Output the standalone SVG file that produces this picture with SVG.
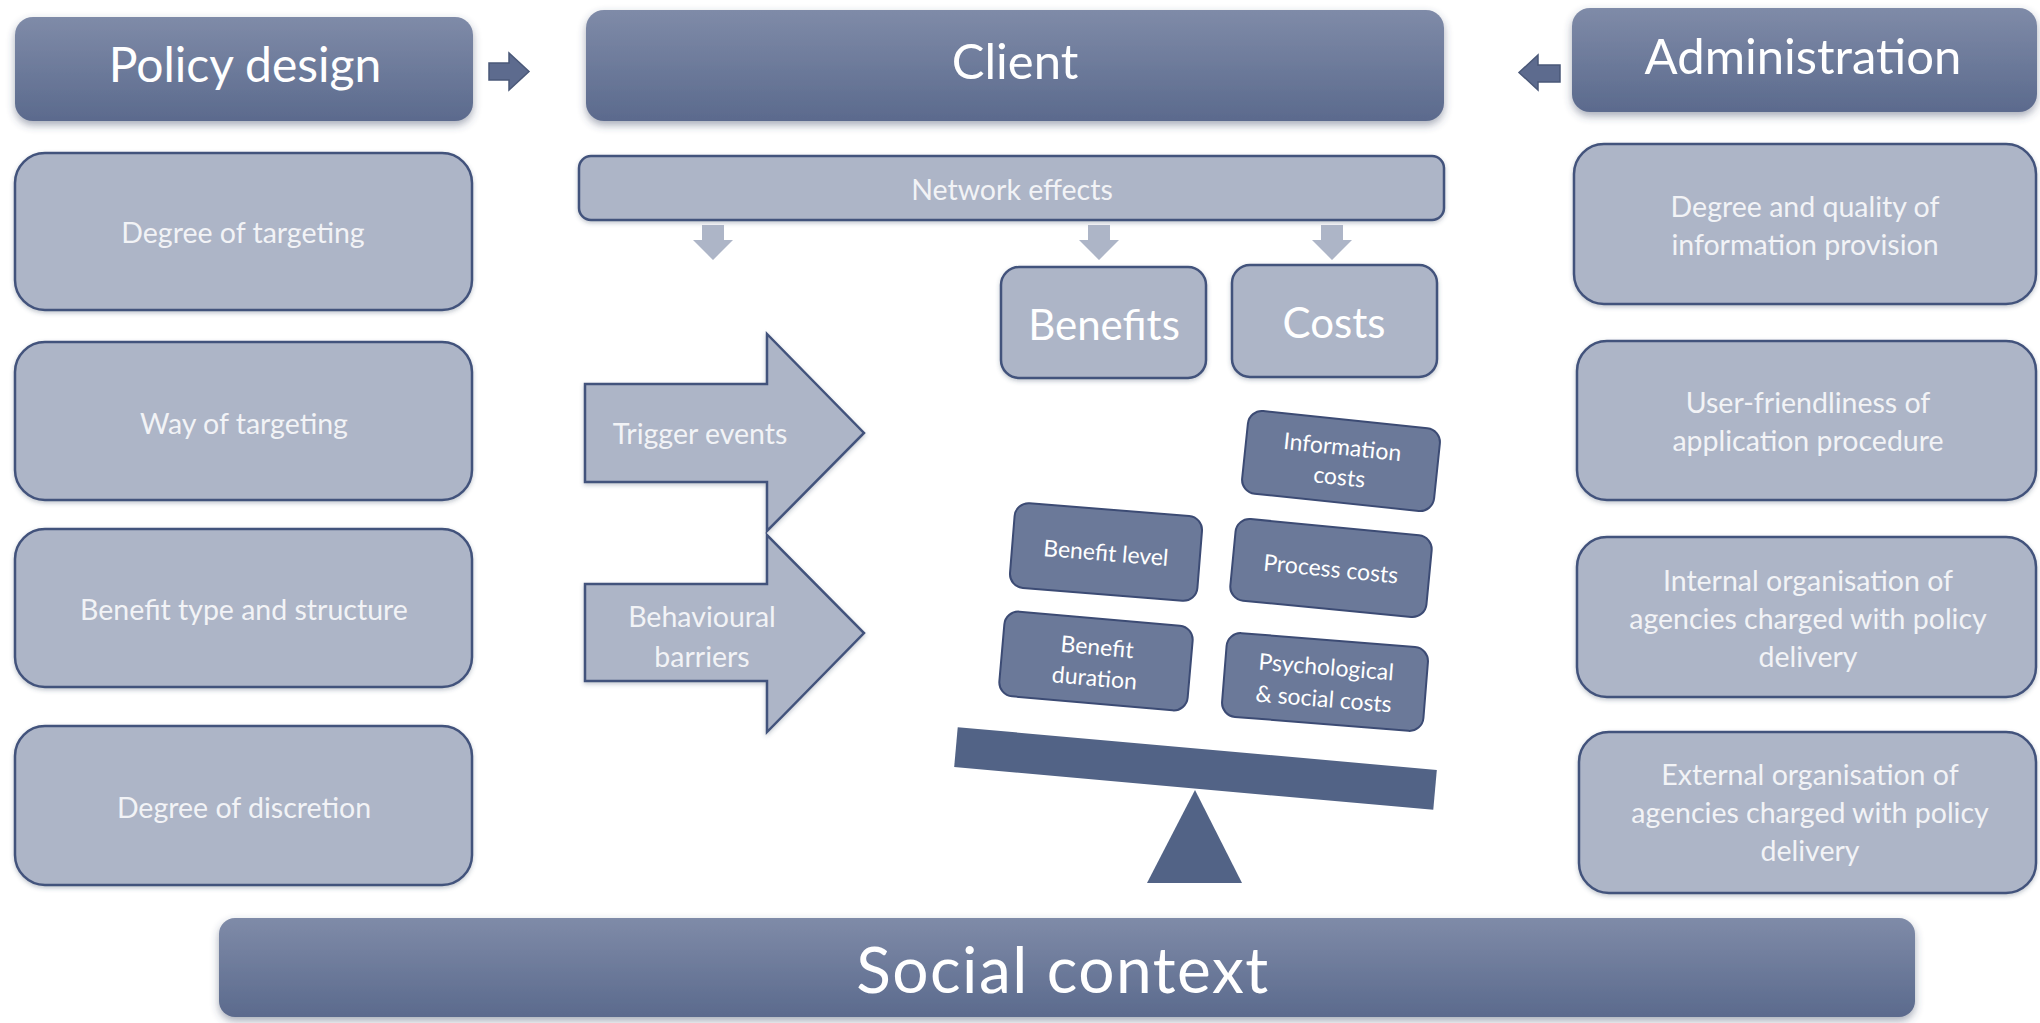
<svg xmlns="http://www.w3.org/2000/svg" width="2040" height="1023" viewBox="0 0 2040 1023">
<defs>
<linearGradient id="hdr" x1="0" y1="0" x2="0" y2="1">
<stop offset="0" stop-color="#7f8ba8"/>
<stop offset="1" stop-color="#5b6a8d"/>
</linearGradient>
<filter id="sh" x="-5%" y="-10%" width="110%" height="130%">
<feDropShadow dx="0" dy="4" stdDeviation="4" flood-color="#3a4560" flood-opacity="0.45"/>
</filter>
<filter id="sh2" x="-5%" y="-10%" width="110%" height="130%">
<feDropShadow dx="0" dy="2" stdDeviation="2" flood-color="#3a4560" flood-opacity="0.3"/>
</filter>
<style>
.hdr{fill:url(#hdr);filter:url(#sh);}
.lt{fill:#adb5c7;stroke:#43537c;stroke-width:2.5;filter:url(#sh2);}
.dk{fill:#6b7999;stroke:#3c4b74;stroke-width:2;}
.bar{fill:#526386;}
.t{font-family:Lato,"Open Sans","Liberation Sans",sans-serif;fill:#ffffff;text-anchor:middle;dominant-baseline:central;}
.tl{font-family:Lato,"Open Sans","Liberation Sans",sans-serif;fill:#f2f3f6;text-anchor:middle;dominant-baseline:central;font-size:28.5px;}
.ts{font-family:Lato,"Open Sans","Liberation Sans",sans-serif;fill:#ffffff;text-anchor:middle;dominant-baseline:central;font-size:23px;}
.ah{fill:#5d6b8e;stroke:#4a5878;stroke-width:1.5;}
.da{fill:#adb5c7;}
</style>
</defs>

<g id="policy-design">
<rect class="hdr" x="15" y="17" width="458" height="104" rx="18"/>
<text class="t" x="245" y="63" font-size="48">Policy design</text>
</g>
<g id="client">
<rect class="hdr" x="586" y="10" width="858" height="111" rx="18"/>
<text class="t" x="1015" y="60" font-size="49">Client</text>
</g>
<g id="administration">
<rect class="hdr" x="1572" y="8" width="465" height="104" rx="18"/>
<text class="t" x="1803" y="55" font-size="49">Administration</text>
</g>

<g id="degree-of-targeting">
<rect class="lt" x="15" y="153" width="457" height="157" rx="30"/>
<text class="tl" x="243" y="232">Degree of targeting</text>
</g>
<g id="way-of-targeting">
<rect class="lt" x="15" y="342" width="457" height="158" rx="30"/>
<text class="tl" x="244" y="423">Way of targeting</text>
</g>
<g id="benefit-type">
<rect class="lt" x="15" y="529" width="457" height="158" rx="30"/>
<text class="tl" x="244" y="609">Benefit type and structure</text>
</g>
<g id="degree-of-discretion">
<rect class="lt" x="15" y="726" width="457" height="159" rx="30"/>
<text class="tl" x="244" y="807">Degree of discretion</text>
</g>

<g id="info-provision">
<rect class="lt" x="1574" y="144" width="462" height="160" rx="30"/>
<text class="tl" x="1805" y="206">Degree and quality of</text>
<text class="tl" x="1805" y="244">information provision</text>
</g>
<g id="user-friendliness">
<rect class="lt" x="1577" y="341" width="459" height="159" rx="30"/>
<text class="tl" x="1808" y="402">User-friendliness of</text>
<text class="tl" x="1808" y="440">application procedure</text>
</g>
<g id="internal-org">
<rect class="lt" x="1577" y="537" width="459" height="160" rx="30"/>
<text class="tl" x="1808" y="580">Internal organisation of</text>
<text class="tl" x="1808" y="618">agencies charged with policy</text>
<text class="tl" x="1808" y="656">delivery</text>
</g>
<g id="external-org">
<rect class="lt" x="1579" y="732" width="457" height="161" rx="30"/>
<text class="tl" x="1810" y="774">External organisation of</text>
<text class="tl" x="1810" y="812">agencies charged with policy</text>
<text class="tl" x="1810" y="850">delivery</text>
</g>

<g id="network-effects">
<rect class="lt" x="579" y="156" width="865" height="64" rx="12"/>
<text class="tl" x="1012" y="189" font-size="30">Network effects</text>
</g>
<g id="benefits">
<rect class="lt" x="1001" y="267" width="205" height="111" rx="18"/>
<text class="t" x="1104" y="324" font-size="42">Benefits</text>
</g>
<g id="costs">
<rect class="lt" x="1232" y="265" width="205" height="112" rx="18"/>
<text class="t" x="1334" y="322" font-size="42">Costs</text>
</g>

<g id="trigger-events">
<path class="lt" d="M585,384 H767 V334 L864,433 L767,531 V482 H585 Z" stroke-linejoin="miter"/>
<text class="tl" x="700" y="433" font-size="33">Trigger events</text>
</g>
<g id="behavioural-barriers">
<path class="lt" d="M585,584 H767 V535 L864,633 L767,732 V681 H585 Z" stroke-linejoin="miter"/>
<text class="tl" x="702" y="616" font-size="33">Behavioural</text>
<text class="tl" x="702" y="656" font-size="33">barriers</text>
</g>

<g id="information-costs" transform="rotate(6 1341 461)">
<rect class="dk" x="1244.5" y="419.5" width="193" height="83" rx="14"/>
<text class="ts" x="1341" y="446">Information</text>
<text class="ts" x="1341" y="476">costs</text>
</g>
<g id="benefit-level" transform="rotate(4.6 1106 552)">
<rect class="dk" x="1012" y="509.5" width="188" height="85" rx="14"/>
<text class="ts" x="1106" y="552">Benefit level</text>
</g>
<g id="process-costs" transform="rotate(5.5 1331 568)">
<rect class="dk" x="1232.5" y="527" width="197" height="82" rx="14"/>
<text class="ts" x="1331" y="568">Process costs</text>
</g>
<g id="benefit-duration" transform="rotate(5 1096 661)">
<rect class="dk" x="1001.5" y="618.5" width="189" height="85" rx="14"/>
<text class="ts" x="1096" y="646">Benefit</text>
<text class="ts" x="1096" y="677">duration</text>
</g>
<g id="psych-social-costs" transform="rotate(4.6 1325 682)">
<rect class="dk" x="1224" y="640" width="202" height="84" rx="14"/>
<text class="ts" x="1325" y="666">Psychological</text>
<text class="ts" x="1325" y="698">&amp; social costs</text>
</g>

<g id="scale">
<rect class="bar" x="955" y="748.5" width="481" height="40" transform="rotate(5.1 1195.5 768.5)"/>
<polygon class="bar" points="1195,790 1147,883 1242,883"/>
</g>

<g id="social-context">
<rect class="hdr" x="219" y="918" width="1696" height="99" rx="16"/>
<text class="t" x="1063" y="968" font-size="64" letter-spacing="1.5">Social context</text>
</g>

<g id="connectors">
<path class="ah" d="M489,63 H509 V53 L529,71.5 L509,90 V80 H489 Z"/>
<path class="ah" d="M1560,65 H1538 V55 L1519,72.5 L1538,90 V82 H1560 Z"/>
<path class="da" d="M702,225 H724 V240 H733 L713,260 L693,240 H702 Z"/>
<path class="da" d="M1088,225 H1110 V240 H1119 L1099,260 L1079,240 H1088 Z"/>
<path class="da" d="M1321,225 H1343 V240 H1352 L1332,260 L1312,240 H1321 Z"/>
</g>
</svg>
